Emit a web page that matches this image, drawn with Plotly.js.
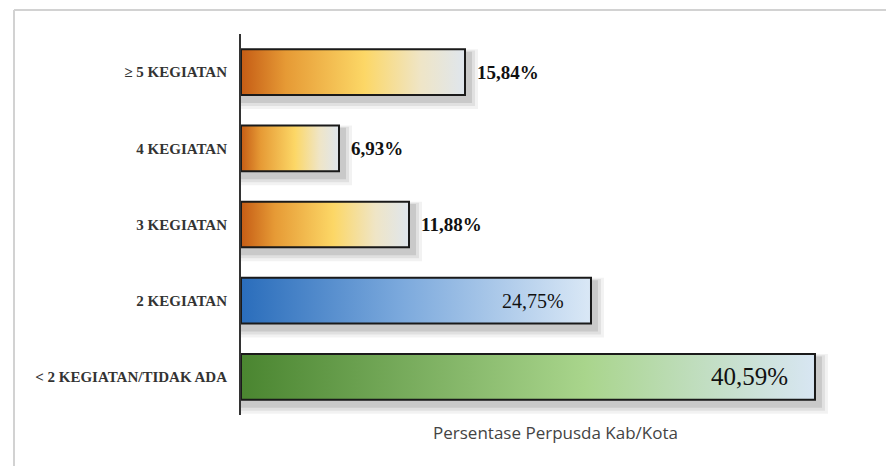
<!DOCTYPE html>
<html>
<head>
<meta charset="utf-8">
<script src="https://cdn.plot.ly/plotly-3.0.1.min.js"></script>
<style>html,body{margin:0;padding:0;background:#fff;}#chart{width:886px;height:466px;}</style>
</head>
<body>
<div id="chart"></div>
<script>
// Data (bottom to top)
var categories = ["< 2 KEGIATAN/TIDAK ADA", "2 KEGIATAN", "3 KEGIATAN", "4 KEGIATAN", "\u2265 5 KEGIATAN"];
var values = [40.59, 24.75, 11.88, 6.93, 15.84];
var valueLabels = ["40,59%", "24,75%", "11,88%", "6,93%", "15,84%"];
var axisTitle = "Persentase Perpusda Kab/Kota";

// Styles
var orangeScale = [[0, "#c55c15"], [0.2, "#e69a35"], [0.55, "#fcd766"], [0.8, "#efe5c6"], [1, "#dfe6ee"]];
var blueScale = [[0, "#2a6dbb"], [0.45, "#7aa8dc"], [1, "#dae8f6"]];
var greenScale = [[0, "#4a8530"], [0.6, "#a9d58c"], [1, "#d8e6f3"]];
var scales = [greenScale, blueScale, orangeScale, orangeScale, orangeScale];
var halfH = 0.3;
var xMax = 44.48;
var pxX = 629 / xMax, pxY = 381 / 5;

var traces = [];
// soft shadows
[10, 7, 4].forEach(function (d, k) {
  values.forEach(function (v, i) {
    var dx = d / pxX, dy = d / pxY, off = 4 / pxY, offx = 3 / pxX;
    traces.push({
      type: "scatter", mode: "none", hoverinfo: "skip", showlegend: false,
      x: [0, v + dx + offx, v + dx + offx, 0, 0],
      y: [i - halfH - dy - off, i - halfH - dy - off, i + halfH + dy * 0.4 - off, i + halfH + dy * 0.4 - off, i - halfH - dy - off],
      fill: "toself", fillcolor: "rgba(0,0,0," + [0.05, 0.07, 0.1][k] + ")"
    });
  });
});
// gradient bars
values.forEach(function (v, i) {
  traces.push({
    type: "scatter", mode: "lines", hoverinfo: "skip", showlegend: false,
    x: [0, v, v, 0, 0],
    y: [i - halfH, i - halfH, i + halfH, i + halfH, i - halfH],
    fill: "toself",
    fillgradient: {type: "horizontal", colorscale: scales[i], start: 0, stop: v},
    line: {color: "#1a1a1a", width: 2}
  });
});

var annotations = values.map(function (v, i) {
  var inside = i < 2;
  return {
    x: v, y: i, xref: "x", yref: "y", text: valueLabels[i], showarrow: false,
    xanchor: inside ? "right" : "left",
    xshift: inside ? -25 : 10,
    font: {family: "Liberation Serif, DejaVu Serif, serif", size: inside ? (i === 0 ? 25 : 20) : 19,
           color: "#111", weight: inside ? 400 : 700}
  };
});

var plotW = 629, plotH = 381;
var shapes = [
  {type: "line", xref: "paper", yref: "paper", x0: (14 - 241) / plotW, x1: (14 - 241) / plotW, y0: (415 - 466) / plotH, y1: (415 - 10) / plotH, line: {color: "#d2d2d2", width: 2}},
  {type: "line", xref: "paper", yref: "paper", x0: (14 - 241) / plotW, x1: (886 - 241) / plotW, y0: (415 - 10) / plotH, y1: (415 - 10) / plotH, line: {color: "#d2d2d2", width: 2}}
];

var layout = {
  width: 886, height: 466,
  margin: {l: 241, r: 16, t: 34, b: 51},
  paper_bgcolor: "#ffffff", plot_bgcolor: "rgba(0,0,0,0)",
  showlegend: false,
  xaxis: {range: [0, xMax], showgrid: false, zeroline: false, showticklabels: false, showline: false, ticks: "",
          title: {text: axisTitle, standoff: 12, font: {family: "Open Sans, Noto Sans, sans-serif", size: 17, color: "#444"}}},
  yaxis: {range: [-0.5, 4.5], tickvals: [0, 1, 2, 3, 4], ticktext: categories, showgrid: false, zeroline: false,
          showline: true, linecolor: "#333", linewidth: 2, ticks: "", ticklabelstandoff: 9,
          tickfont: {family: "Liberation Serif, DejaVu Serif, serif", size: 15, color: "#333", weight: 700}},
  annotations: annotations,
  shapes: shapes
};

Plotly.newPlot("chart", traces, layout, {displayModeBar: false, staticPlot: true});
</script>
</body>
</html>
